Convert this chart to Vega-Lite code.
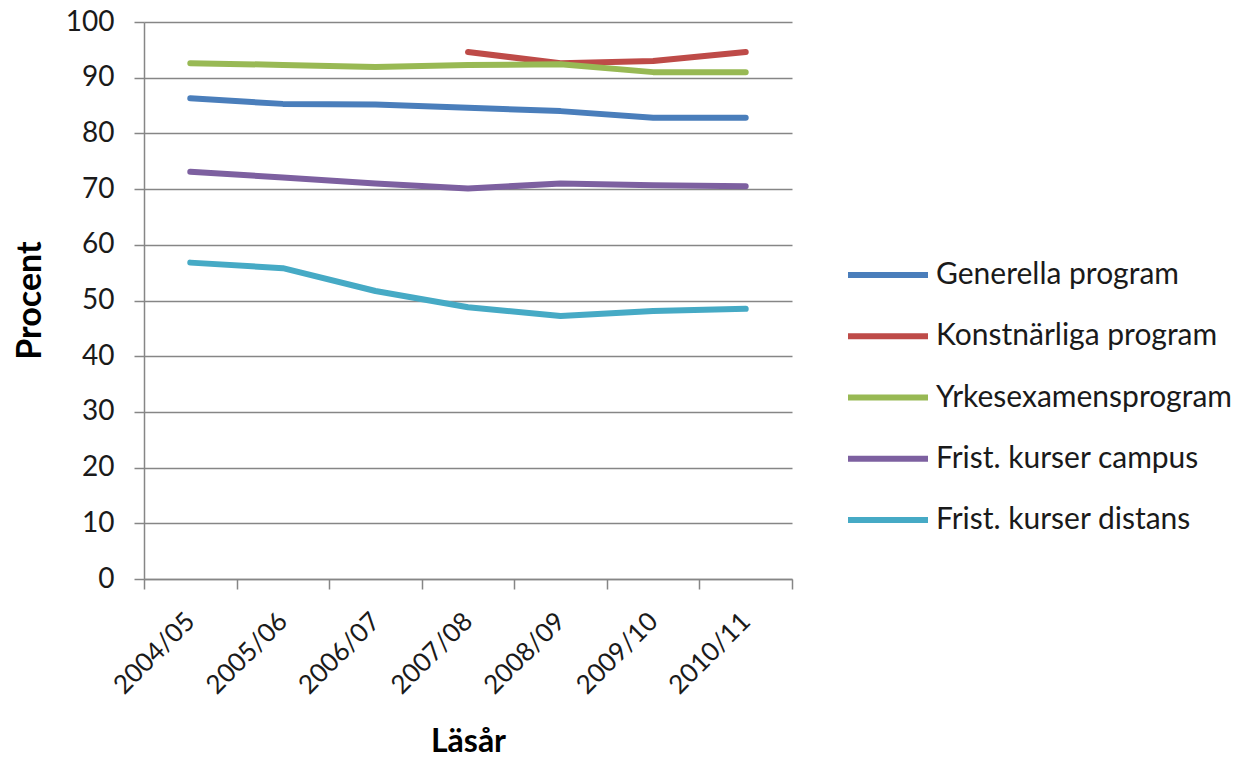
{
  "$schema": "https://vega.github.io/schema/vega-lite/v6.json",
  "width": 648,
  "height": 557,
  "autosize": {"type": "none"},
  "padding": {"left": 144, "top": 22, "right": 450, "bottom": 178},
  "background": "white",
  "data": {
    "values": [
      {"serie": "Generella program", "ar": "2004/05", "v": 86.3},
      {"serie": "Generella program", "ar": "2005/06", "v": 85.3},
      {"serie": "Generella program", "ar": "2006/07", "v": 85.2},
      {"serie": "Generella program", "ar": "2007/08", "v": 84.6},
      {"serie": "Generella program", "ar": "2008/09", "v": 84.0},
      {"serie": "Generella program", "ar": "2009/10", "v": 82.8},
      {"serie": "Generella program", "ar": "2010/11", "v": 82.8},
      {"serie": "Konstnärliga program", "ar": "2007/08", "v": 94.6},
      {"serie": "Konstnärliga program", "ar": "2008/09", "v": 92.6},
      {"serie": "Konstnärliga program", "ar": "2009/10", "v": 93.0},
      {"serie": "Konstnärliga program", "ar": "2010/11", "v": 94.6},
      {"serie": "Yrkesexamensprogram", "ar": "2004/05", "v": 92.6},
      {"serie": "Yrkesexamensprogram", "ar": "2005/06", "v": 92.3},
      {"serie": "Yrkesexamensprogram", "ar": "2006/07", "v": 91.9},
      {"serie": "Yrkesexamensprogram", "ar": "2007/08", "v": 92.3},
      {"serie": "Yrkesexamensprogram", "ar": "2008/09", "v": 92.4},
      {"serie": "Yrkesexamensprogram", "ar": "2009/10", "v": 91.0},
      {"serie": "Yrkesexamensprogram", "ar": "2010/11", "v": 91.0},
      {"serie": "Frist. kurser campus", "ar": "2004/05", "v": 73.1},
      {"serie": "Frist. kurser campus", "ar": "2005/06", "v": 72.1},
      {"serie": "Frist. kurser campus", "ar": "2006/07", "v": 71.0},
      {"serie": "Frist. kurser campus", "ar": "2007/08", "v": 70.1},
      {"serie": "Frist. kurser campus", "ar": "2008/09", "v": 71.0},
      {"serie": "Frist. kurser campus", "ar": "2009/10", "v": 70.7},
      {"serie": "Frist. kurser campus", "ar": "2010/11", "v": 70.5},
      {"serie": "Frist. kurser distans", "ar": "2004/05", "v": 56.8},
      {"serie": "Frist. kurser distans", "ar": "2005/06", "v": 55.8},
      {"serie": "Frist. kurser distans", "ar": "2006/07", "v": 51.7},
      {"serie": "Frist. kurser distans", "ar": "2007/08", "v": 48.8},
      {"serie": "Frist. kurser distans", "ar": "2008/09", "v": 47.2},
      {"serie": "Frist. kurser distans", "ar": "2009/10", "v": 48.1},
      {"serie": "Frist. kurser distans", "ar": "2010/11", "v": 48.5}
    ]
  },
  "mark": {"type": "line", "strokeWidth": 6, "strokeCap": "round", "strokeJoin": "round"},
  "encoding": {
    "x": {
      "field": "ar",
      "type": "ordinal",
      "scale": {"type": "band", "paddingInner": 0, "paddingOuter": 0},
      "axis": {
        "title": "Läsår",
        "titleFont": "Lato",
        "titleFontSize": 32,
        "titleFontWeight": "bold",
        "titleColor": "#000000",
        "titleY": 172,
        "titleBaseline": "alphabetic",
        "labelAngle": -45,
        "labelAlign": "right",
        "labelBaseline": "middle",
        "labelFont": "Lato",
        "labelFontSize": 26,
        "labelColor": "#1a1a1a",
        "labelPadding": 28,
        "tickBand": "extent",
        "tickSize": 10,
        "tickColor": "#868686",
        "tickWidth": 1.5,
        "domainColor": "#868686",
        "domainWidth": 1.5,
        "grid": false
      }
    },
    "y": {
      "field": "v",
      "type": "quantitative",
      "scale": {"domain": [0, 100], "nice": false},
      "axis": {
        "title": "Procent",
        "titleFont": "Lato",
        "titleFontSize": 34,
        "titleFontWeight": "bold",
        "titleColor": "#000000",
        "titleX": -114,
        "titleY": 278,
        "titleAngle": -90,
        "titleAlign": "center",
        "titleBaseline": "middle",
        "values": [0, 10, 20, 30, 40, 50, 60, 70, 80, 90, 100],
        "labelFont": "Lato",
        "labelFontSize": 28,
        "labelColor": "#1a1a1a",
        "labelPadding": 20,
        "tickSize": 10,
        "tickColor": "#868686",
        "tickWidth": 1.5,
        "domainColor": "#868686",
        "domainWidth": 1.5,
        "grid": true,
        "gridColor": "#868686",
        "gridWidth": 1.5
      }
    },
    "color": {
      "field": "serie",
      "type": "nominal",
      "sort": ["Generella program", "Konstnärliga program", "Yrkesexamensprogram", "Frist. kurser campus", "Frist. kurser distans"],
      "scale": {
        "domain": ["Generella program", "Konstnärliga program", "Yrkesexamensprogram", "Frist. kurser campus", "Frist. kurser distans"],
        "range": ["#4A7EBB", "#BE4B48", "#98B954", "#7D60A0", "#46AAC5"]
      },
      "legend": {
        "title": null,
        "orient": "none",
        "legendX": 721,
        "legendY": 230,
        "padding": 0,
        "symbolType": "M-2,0H2",
        "symbolSize": 1600,
        "symbolStrokeWidth": 6,
        "symbolFillColor": "transparent",
        "labelFont": "Lato",
        "labelFontSize": 30,
        "labelColor": "#1a1a1a",
        "labelOffset": 25,
        "labelLimit": 400,
        "rowPadding": 23.25
      }
    }
  },
  "config": {
    "view": {"stroke": null}
  }
}
